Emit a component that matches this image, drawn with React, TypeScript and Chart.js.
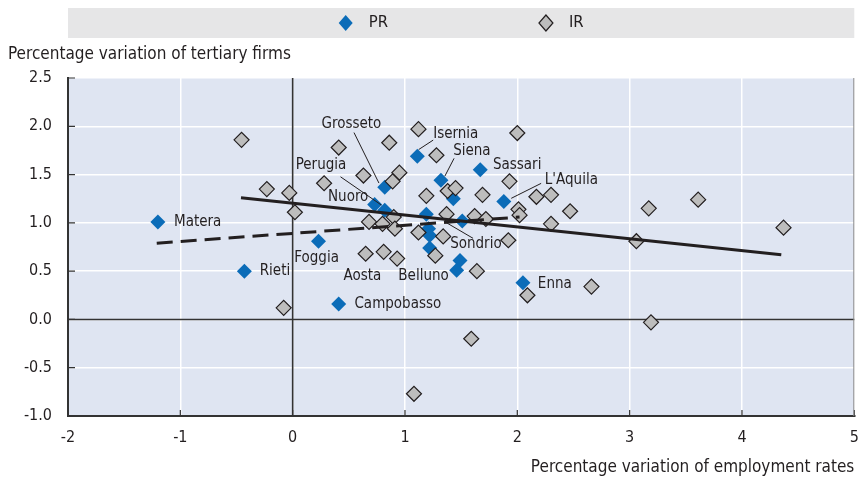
import { useEffect, useRef } from 'react';
import { Chart, registerables } from 'chart.js';

Chart.register(...registerables);

const FONT = '"Liberation Sans Narrow", "DejaVu Sans Condensed", "Arial Narrow", sans-serif';
const TEXT = '#231f20';

// PR regions
const prX = [-1.2, -0.43, 0.23, 0.41, 0.73, 0.82, 0.82, 1.11, 1.32, 1.67, 1.88, 1.43, 1.19, 1.51, 1.21, 1.22, 1.22, 1.49, 1.46, 2.05];
const prY = [1.01, 0.5, 0.81, 0.16, 1.19, 1.13, 1.37, 1.69, 1.44, 1.55, 1.22, 1.25, 1.09, 1.02, 0.94, 0.87, 0.74, 0.61, 0.51, 0.38];

// IR regions
const irX = [-0.455, -0.23, -0.03, 0.02, -0.08, 0.41, 0.28, 0.63, 0.86, 0.95, 0.89, 1.12, 1.28, 1.19, 1.38, 1.45, 1.69, 2.0, 1.93, 2.17, 2.3, 2.47, 2.01, 2.02, 2.3, 1.92, 1.64, 2.09, 2.66, 3.06, 3.17, 3.61, 4.37, 3.19, 1.59, 1.08, 0.68, 0.8, 0.9, 0.91, 0.65, 0.81, 0.93, 1.12, 1.34, 1.27, 1.37, 1.62, 1.72];
const irY = [1.86, 1.35, 1.31, 1.11, 0.12, 1.78, 1.41, 1.49, 1.83, 1.52, 1.43, 1.97, 1.7, 1.28, 1.33, 1.36, 1.29, 1.93, 1.43, 1.27, 1.29, 1.12, 1.14, 1.08, 0.99, 0.82, 0.5, 0.25, 0.34, 0.81, 1.15, 1.24, 0.95, -0.03, -0.2, -0.77, 1.01, 0.99, 1.06, 0.94, 0.68, 0.7, 0.63, 0.9, 0.86, 0.66, 1.09, 1.07, 1.04];

// Trend lines
const trendAllX = [-0.46, 4.35];
const trendAllY = [1.26, 0.67];
const trendPrX = [-1.21, 2.02];
const trendPrY = [0.79, 1.06];

// Ticks
const xTickValues = [-2, -1, 0, 1, 2, 3, 4, 5];
const yTickValues = [-1, -0.5, 0, 0.5, 1, 1.5, 2, 2.5];

// Series names and titles
const seriesNames = ['PR', 'IR'];
const yTitle = 'Percentage variation of tertiary firms';
const xTitle = 'Percentage variation of employment rates';

// Region labels (anchor in data units)
const labelText = ['Matera', 'Rieti', 'Foggia', 'Campobasso', 'Nuoro', 'Perugia', 'Grosseto', 'Isernia', 'Siena', 'Sassari', "L'Aquila", 'Sondrio', 'Aosta', 'Belluno', 'Enna'];
const labelX = [-1.056, -0.293, 0.213, 0.55, 0.674, 0.027, 0.257, 1.251, 1.429, 1.783, 2.245, 1.402, 0.453, 0.941, 2.183];
const labelY = [1.008, 0.501, 0.636, 0.159, 1.267, 1.598, 2.018, 1.919, 1.743, 1.598, 1.443, 0.781, 0.449, 0.449, 0.366];
const labelAlign = ['left', 'left', 'center', 'left', 'right', 'left', 'left', 'left', 'left', 'left', 'left', 'left', 'left', 'left', 'left'];

// Leader lines (data units)
const leaderX1 = [0.426, 0.546, 1.251, 1.437, 2.212, 1.606];
const leaderY1 = [1.477, 1.935, 1.857, 1.668, 1.409, 0.84];
const leaderX2 = [0.79, 0.768, 1.122, 1.355, 1.946, 1.355];
const leaderY2 = [1.184, 1.412, 1.759, 1.484, 1.254, 1.011];

const PR_COLOR = '#0b6cb8';
const IR_COLOR = '#bdbdbd';

const toPts = (xs: number[], ys: number[]) => xs.map((x, i) => ({ x, y: ys[i] }));

const decorPlugin = {
  id: 'decor',
  beforeDraw(chart: any) {
    const { ctx, chartArea: a } = chart;
    ctx.save();
    ctx.fillStyle = '#dfe5f2';
    ctx.fillRect(a.left, a.top, a.right - a.left, a.bottom - a.top);
    // legend box
    ctx.fillStyle = '#e6e6e7';
    ctx.fillRect(a.left, 8, a.right - a.left, 30);
    ctx.restore();
  },
  beforeDatasetsDraw(chart: any) {
    const { ctx, chartArea: a, scales } = chart;
    ctx.save();
    // zero lines on top of grid
    ctx.strokeStyle = '#333';
    ctx.lineWidth = 1.6;
    ctx.beginPath();
    const x0 = scales.x.getPixelForValue(0);
    const y0 = scales.y.getPixelForValue(0);
    ctx.moveTo(x0, a.top);
    ctx.lineTo(x0, a.bottom);
    ctx.moveTo(a.left, y0);
    ctx.lineTo(a.right, y0);
    ctx.stroke();
    // inward tick marks
    ctx.lineWidth = 1.2;
    ctx.beginPath();
    xTickValues.forEach((v) => {
      const px = scales.x.getPixelForValue(v);
      ctx.moveTo(px, a.bottom);
      ctx.lineTo(px, a.bottom - 6);
    });
    yTickValues.forEach((v) => {
      const py = scales.y.getPixelForValue(v);
      ctx.moveTo(a.left, py);
      ctx.lineTo(a.left + 7, py);
    });
    ctx.stroke();
    // right frame
    ctx.strokeStyle = '#8a8a8a';
    ctx.lineWidth = 1;
    ctx.beginPath();
    ctx.moveTo(a.right - 0.5, a.top);
    ctx.lineTo(a.right - 0.5, a.bottom);
    ctx.stroke();
    ctx.restore();
  },
  afterDatasetsDraw(chart: any) {
    const { ctx, scales } = chart;
    ctx.save();
    ctx.strokeStyle = TEXT;
    ctx.lineWidth = 1;
    ctx.beginPath();
    leaderX1.forEach((x1, i) => {
      ctx.moveTo(scales.x.getPixelForValue(x1), scales.y.getPixelForValue(leaderY1[i]));
      ctx.lineTo(scales.x.getPixelForValue(leaderX2[i]), scales.y.getPixelForValue(leaderY2[i]));
    });
    ctx.stroke();
    ctx.fillStyle = TEXT;
    ctx.font = `15px ${FONT}`;
    ctx.textBaseline = 'middle';
    labelText.forEach((t, i) => {
      ctx.textAlign = labelAlign[i] as CanvasTextAlign;
      ctx.fillText(t, scales.x.getPixelForValue(labelX[i]), scales.y.getPixelForValue(labelY[i]));
    });
    ctx.restore();
  },
  afterDraw(chart: any) {
    const { ctx, chartArea: a } = chart;
    ctx.save();
    // y title
    ctx.fillStyle = TEXT;
    ctx.font = `17px ${FONT}`;
    ctx.textBaseline = 'middle';
    ctx.textAlign = 'left';
    ctx.fillText(yTitle, 8, 55);
    // legend
    ctx.font = `16.5px ${FONT}`;
    const iconToText = 23;
    const itemGap = 158;
    const r = 7;
    const w1 = ctx.measureText(seriesNames[0]).width;
    const w2 = ctx.measureText(seriesNames[1]).width;
    const total = r + iconToText + w1 + itemGap + iconToText + w2;
    const cx = (a.left + a.right) / 2;
    const cy = 23;
    let x = cx - total / 2 + r;
    const drawDiamond = (px: number, fill: string, stroke: boolean) => {
      ctx.beginPath();
      ctx.moveTo(px, cy - r - 1);
      ctx.lineTo(px + r, cy);
      ctx.lineTo(px, cy + r + 1);
      ctx.lineTo(px - r, cy);
      ctx.closePath();
      ctx.fillStyle = fill;
      ctx.fill();
      if (stroke) {
        ctx.strokeStyle = TEXT;
        ctx.lineWidth = 1.2;
        ctx.stroke();
      }
    };
    drawDiamond(x, PR_COLOR, false);
    ctx.fillStyle = TEXT;
    ctx.fillText(seriesNames[0], x + iconToText, cy);
    x = x + iconToText + w1 + itemGap;
    drawDiamond(x, IR_COLOR, true);
    ctx.fillStyle = TEXT;
    ctx.fillText(seriesNames[1], x + iconToText, cy);
    ctx.restore();
  },
};

export default function App() {
  const ref = useRef<HTMLCanvasElement | null>(null);

  useEffect(() => {
    document.body.style.margin = '0';
    if (!ref.current) return;
    const chart = new Chart(ref.current, {
      type: 'scatter',
      data: {
        datasets: [
          {
            label: 'trend all',
            data: toPts(trendAllX, trendAllY),
            showLine: true,
            borderColor: TEXT,
            borderWidth: 3,
            pointRadius: 0,
            fill: false,
          },
          {
            label: 'trend PR',
            data: toPts(trendPrX, trendPrY),
            showLine: true,
            borderColor: TEXT,
            borderWidth: 3,
            borderDash: [16, 8],
            pointRadius: 0,
            fill: false,
          },
          {
            label: seriesNames[1],
            data: toPts(irX, irY),
            pointStyle: 'rectRot',
            pointRadius: 7.5,
            backgroundColor: IR_COLOR,
            borderColor: TEXT,
            borderWidth: 1.2,
          },
          {
            label: seriesNames[0],
            data: toPts(prX, prY),
            pointStyle: 'rectRot',
            pointRadius: 7.5,
            backgroundColor: PR_COLOR,
            borderColor: PR_COLOR,
            borderWidth: 0,
          },
        ],
      },
      options: {
        animation: false,
        responsive: true,
        maintainAspectRatio: false,
        layout: { padding: { top: 78, right: 3, left: 0, bottom: 0 } },
        plugins: {
          legend: { display: false },
          tooltip: { enabled: false },
        },
        scales: {
          x: {
            type: 'linear',
            min: -2,
            max: 5,
            afterBuildTicks: (s: any) => {
              s.ticks = xTickValues.map((v) => ({ value: v }));
            },
            afterFit: (s: any) => {
              s.height = 62;
              s.paddingLeft = 0;
              s.paddingRight = 0;
            },
            ticks: {
              color: TEXT,
              font: { family: FONT, size: 16 },
              padding: 12,
              callback: (v: any) => String(v),
            },
            grid: {
              drawTicks: false,
              color: '#ffffff',
              lineWidth: 1.5,
            },
            border: { display: true, color: '#333', width: 2 },
            title: {
              display: true,
              text: xTitle,
              align: 'end',
              color: TEXT,
              font: { family: FONT, size: 17 },
              padding: { top: 6, bottom: 0 },
            },
          },
          y: {
            type: 'linear',
            min: -1,
            max: 2.5,
            afterBuildTicks: (s: any) => {
              s.ticks = yTickValues.map((v) => ({ value: v }));
            },
            afterFit: (s: any) => {
              s.width = 68;
            },
            ticks: {
              color: TEXT,
              font: { family: FONT, size: 16 },
              padding: 16,
              callback: (v: any) => Number(v).toFixed(1),
            },
            grid: {
              drawTicks: false,
              color: '#ffffff',
              lineWidth: 1.5,
            },
            border: { display: true, color: '#333', width: 2 },
          },
        },
      },
      plugins: [decorPlugin],
    });
    return () => chart.destroy();
  }, []);

  return (
    <div style={{ width: 863, height: 478, position: 'relative' }}>
      <canvas ref={ref} />
    </div>
  );
}
